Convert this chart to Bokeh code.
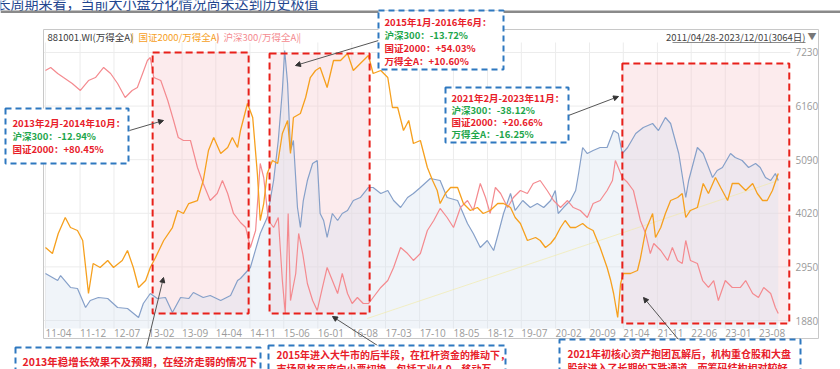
from datetime import datetime, timedelta
from bokeh.plotting import figure
from bokeh.models import (Range1d, FixedTicker, CustomJSTickFormatter, Label,
                          BoxAnnotation, Arrow, NormalHead)
from bokeh.embed import file_html
from bokeh.resources import INLINE

# ---------------- data (dates as decimal years) ----------------
# 881001.WI 万得全A (right axis)
WDQA_T = [2011.32, 2011.53, 2011.58, 2011.75, 2011.87, 2012.01, 2012.09, 2012.23, 2012.39, 2012.56,
          2012.73, 2012.92, 2013.00, 2013.12, 2013.24, 2013.38, 2013.50, 2013.64, 2013.78, 2013.86,
          2014.03, 2014.15, 2014.33, 2014.50, 2014.62, 2014.67, 2014.84, 2015.01, 2015.13, 2015.24,
          2015.32, 2015.39, 2015.43, 2015.48, 2015.53, 2015.58, 2015.65, 2015.70, 2015.75, 2015.82,
          2015.91, 2015.99, 2016.04, 2016.10, 2016.16, 2016.25, 2016.34, 2016.42, 2016.51, 2016.61,
          2016.73, 2016.87, 2016.95, 2017.08, 2017.20, 2017.30, 2017.42, 2017.54, 2017.64, 2017.76,
          2017.93, 2018.10, 2018.22, 2018.40, 2018.57, 2018.67, 2018.79, 2018.91, 2019.02, 2019.10,
          2019.19, 2019.31, 2019.39, 2019.52, 2019.65, 2019.77, 2019.88, 2020.00, 2020.08, 2020.13,
          2020.22, 2020.34, 2020.43, 2020.48, 2020.55, 2020.63, 2020.73, 2020.85, 2020.97, 2021.08,
          2021.16, 2021.23, 2021.32, 2021.46, 2021.59, 2021.75, 2021.85, 2021.97, 2022.06, 2022.20,
          2022.32, 2022.37, 2022.52, 2022.62, 2022.78, 2022.86, 2022.95, 2023.09, 2023.17, 2023.29,
          2023.40, 2023.52, 2023.60, 2023.69, 2023.78, 2023.86, 2023.91]
WDQA_V = [2818, 2678, 2778, 2539, 2519, 2139, 2279, 2339, 2319, 2139,
          2120, 1940, 2219, 2419, 2319, 2339, 2040, 2339, 2319, 2439,
          2339, 2379, 2279, 2379, 2678, 2718, 2938, 3617, 3936, 4674,
          5473, 6471, 7269, 6611, 5273, 5473, 4135, 3736, 4275, 4674,
          5014, 5074, 4016, 3876, 3537, 4016, 3876, 4016, 4076, 4275,
          4335, 4535, 4535, 4415, 4475, 4275, 4135, 4335, 4415, 4535,
          4714, 4674, 4335, 4275, 3816, 3617, 3337, 3477, 3277, 3617,
          4016, 4415, 4076, 4275, 4135, 4215, 4135, 4275, 4475, 4016,
          4135, 4275, 4475, 4814, 5333, 5213, 5273, 5333, 5333, 5672,
          5613, 5213, 5333, 5613, 5732, 5812, 5672, 5932, 5812, 5213,
          4335, 4674, 5333, 5213, 4734, 4874, 4934, 5213, 5133, 5074,
          4934, 5014, 4934, 4734, 4674, 4814, 4674]

# 国证2000/万得全A ratio (drawn on the right-axis equivalent scale)
GZ2000_T = [2011.32, 2011.44, 2011.54, 2011.66, 2011.75, 2011.87, 2011.96, 2012.06, 2012.14, 2012.26,
            2012.39, 2012.49, 2012.64, 2012.73, 2012.83, 2012.92, 2013.04, 2013.12, 2013.21, 2013.35,
            2013.50, 2013.59, 2013.69, 2013.78, 2013.93, 2014.03, 2014.12, 2014.21, 2014.33, 2014.45,
            2014.53, 2014.62, 2014.67, 2014.79, 2014.88, 2014.96, 2015.01, 2015.07, 2015.13, 2015.22,
            2015.31, 2015.39, 2015.48, 2015.53, 2015.58, 2015.70, 2015.79, 2015.87, 2015.96, 2016.04,
            2016.16, 2016.27, 2016.39, 2016.51, 2016.61, 2016.73, 2016.87, 2016.95, 2017.08, 2017.20,
            2017.28, 2017.37, 2017.47, 2017.56, 2017.64, 2017.76, 2017.88, 2017.97, 2018.05, 2018.10,
            2018.19, 2018.28, 2018.40, 2018.50, 2018.62, 2018.74, 2018.84, 2018.96, 2019.09, 2019.19,
            2019.31, 2019.39, 2019.48, 2019.60, 2019.74, 2019.82, 2019.91, 2020.00, 2020.08, 2020.17,
            2020.25, 2020.34, 2020.43, 2020.55, 2020.63, 2020.73, 2020.80, 2020.85, 2020.91, 2020.97,
            2021.03, 2021.08, 2021.15, 2021.20, 2021.25, 2021.37, 2021.49, 2021.54, 2021.63, 2021.75,
            2021.80, 2021.89, 2021.97, 2022.06, 2022.18, 2022.26, 2022.32, 2022.40, 2022.52, 2022.62,
            2022.71, 2022.83, 2022.92, 2023.04, 2023.12, 2023.23, 2023.35, 2023.47, 2023.55, 2023.64,
            2023.72, 2023.81, 2023.91]
GZ2000_V = [3337, 3217, 3617, 3936, 3736, 3676, 3477, 2419, 3018, 2938,
            3078, 2938, 3078, 3277, 2938, 2539, 2678, 2938, 3137, 3477,
            3736, 4076, 4016, 4215, 4275, 4674, 5273, 5533, 5213, 5333,
            5533, 5333, 5672, 6211, 5932, 4814, 3876, 4215, 4814, 5074,
            5014, 5613, 5872, 5213, 5932, 6012, 6331, 6730, 6870, 6930,
            6531, 7070, 7070, 7209, 6870, 7010, 7169, 6810, 6870, 6730,
            6131, 6131, 5672, 5872, 5413, 5473, 4934, 4674, 4475, 4215,
            4415, 4535, 4535, 4215, 4076, 4135, 4016, 4076, 4215, 4215,
            4135, 3936, 3816, 3477, 3537, 3477, 3337, 3417, 3537, 3736,
            3876, 3736, 3736, 3816, 3736, 3676, 3477, 3337, 3137, 2938,
            2678, 2419, 1940, 2619, 2818, 2818, 2878, 3118, 3676, 4016,
            3537, 3736, 4016, 4275, 4335, 4415, 3936, 4076, 4135, 4615,
            4415, 4734, 4535, 4275, 4615, 4615, 4475, 4615, 4415, 4275,
            4275, 4475, 4814]

# 沪深300/万得全A ratio (drawn on the right-axis equivalent scale)
HS300_T = [2011.32, 2011.41, 2011.53, 2011.63, 2011.78, 2011.92, 2012.06, 2012.18, 2012.32, 2012.44,
           2012.56, 2012.69, 2012.81, 2012.90, 2012.99, 2013.07, 2013.12, 2013.18, 2013.30, 2013.42,
           2013.52, 2013.60, 2013.69, 2013.81, 2013.93, 2014.03, 2014.15, 2014.27, 2014.36, 2014.45,
           2014.55, 2014.67, 2014.76, 2014.84, 2014.93, 2015.01, 2015.07, 2015.15, 2015.24, 2015.32,
           2015.39, 2015.44, 2015.49, 2015.53, 2015.62, 2015.67, 2015.74, 2015.82, 2015.91, 2015.99,
           2016.08, 2016.16, 2016.25, 2016.34, 2016.42, 2016.51, 2016.59, 2016.68, 2016.78, 2016.87,
           2016.95, 2017.08, 2017.20, 2017.30, 2017.42, 2017.54, 2017.64, 2017.76, 2017.88, 2017.99,
           2018.10, 2018.22, 2018.33, 2018.45, 2018.57, 2018.67, 2018.79, 2018.88, 2018.96, 2019.05,
           2019.14, 2019.26, 2019.36, 2019.48, 2019.60, 2019.70, 2019.82, 2019.94, 2020.05, 2020.17,
           2020.29, 2020.39, 2020.51, 2020.63, 2020.73, 2020.85, 2020.97, 2021.06, 2021.11, 2021.16,
           2021.23, 2021.32, 2021.42, 2021.54, 2021.63, 2021.71, 2021.77, 2021.89, 2022.01, 2022.09,
           2022.18, 2022.26, 2022.32, 2022.40, 2022.52, 2022.61, 2022.71, 2022.80, 2022.88, 2023.00,
           2023.12, 2023.26, 2023.35, 2023.47, 2023.57, 2023.66, 2023.78, 2023.86, 2023.91]
HS300_V = [6870, 6930, 6810, 6730, 6611, 6471, 6670, 6730, 6930, 6810,
           6611, 6331, 6471, 6531, 6810, 7070, 7129, 6730, 6670, 6271,
           5872, 5533, 5473, 5473, 4934, 4615, 4275, 4415, 4674, 4415,
           4016, 3836, 3736, 3337, 3676, 5014, 4734, 3876, 3736, 3936,
           2678, 2020, 4016, 2279, 2818, 3617, 3217, 2619, 2279, 2080,
           2539, 2938, 2678, 2419, 2818, 2419, 2219, 2339, 2219, 2219,
           2339, 2539, 2678, 2938, 3337, 3217, 3078, 3217, 3676, 3876,
           4116, 3936, 3736, 4135, 4275, 4076, 4615, 4335, 4016, 4535,
           4415, 4135, 4335, 4475, 4415, 4615, 4674, 4475, 4275, 4135,
           4275, 4135, 4076, 3936, 4215, 4275, 4475, 4674, 5074, 4934,
           4734, 4634, 4475, 3876, 3617, 3217, 3417, 3277, 3078, 3337,
           3078, 3018, 3477, 3078, 3018, 2678, 2539, 2678, 2279, 2678,
           2539, 2539, 2678, 2419, 2339, 2539, 2419, 2139, 2020]

# highlighted periods (red dashed boxes)
RECT_START = [2013.16, 2015.17, 2021.23]
RECT_END = [2014.81, 2016.89, 2024.10]
RECT_TOP = [7229, 7209, 7010]
RECT_BOTTOM = [2020, 2020, 1820]

# faint trend line
TREND_T = [2016.85, 2023.91]
TREND_V = [1920, 4674]

Y_TICKS = [1880, 2950, 4020, 5090, 6160, 7230]
X_TICK_LABELS = ["11-04", "11-12", "12-07", "13-02", "13-09", "14-04", "14-11", "15-06",
                 "16-01", "16-08", "17-03", "17-10", "18-05", "18-12", "19-07", "20-02",
                 "20-09", "21-04", "21-11", "22-06", "23-01", "23-08"]

# whole-canvas ranges and the chart panel extent inside them
X_START, X_END = 2010.547, 2024.980
Y_START, Y_END = 902.0, 8267.2
PANEL_T0, PANEL_T1 = 2011.286, 2024.12
PANEL_V0, PANEL_V1 = 1720, 7429
AXIS_V = 1725            # x-axis baseline
LABEL_SHIFT_DAYS = 82    # tick labels start at the month line (Wind style)


def to_dt(t):
    y = int(t)
    return datetime(y, 1, 1) + timedelta(days=(t - y) * 365.25)


def ms(d):
    return (d - datetime(1970, 1, 1)).total_seconds() * 1000.0


data_start = to_dt(WDQA_T[0])
tick_dates = []
for lab in X_TICK_LABELS:
    yy, mm = lab.split("-")
    d = datetime(2000 + int(yy), int(mm), 1)
    tick_dates.append(max(d, data_start))

FONT = "Noto Sans CJK SC"
RED = "#e8202a"
GREEN = "#1ea64b"
BLUE_BOX = "#2e78c0"

p = figure(width=840, height=369, x_axis_type="datetime", y_axis_location="right",
           x_range=Range1d(to_dt(X_START), to_dt(X_END)),
           y_range=Range1d(Y_START, Y_END),
           output_backend="svg", toolbar_location=None,
           min_border=0, min_border_left=0, min_border_right=0, min_border_top=0, min_border_bottom=0,
           outline_line_color=None, background_fill_color="white", border_fill_color="white")
p.grid.visible = False

# page-pixel helper ranges for the annotation boxes
p.extra_x_ranges = {"px": Range1d(0, 840)}
p.extra_y_ranges = {"px": Range1d(369, 0)}

# axes (placed inside the canvas, at the panel edges)
p.xaxis.ticker = FixedTicker(ticks=[ms(d + timedelta(days=LABEL_SHIFT_DAYS)) for d in tick_dates])
p.xaxis.formatter = CustomJSTickFormatter(args=dict(labels=X_TICK_LABELS), code="return labels[index];")
p.xaxis.fixed_location = AXIS_V
p.yaxis.ticker = FixedTicker(ticks=Y_TICKS)
p.yaxis.fixed_location = ms(to_dt(PANEL_T1))
for ax in (p.xaxis[0], p.yaxis[0]):
    ax.axis_line_color = None
    ax.major_tick_line_color = None
    ax.minor_tick_line_color = None
    ax.major_tick_out = 0
    ax.major_tick_in = 0
    ax.major_label_text_color = "#9a9a9a"
    ax.major_label_text_font = "Open Sans"
    ax.major_label_text_font_size = "10px"
p.xaxis.major_label_standoff = 1
p.yaxis.major_label_standoff = 5

# grid lines inside the panel
p.segment(x0=tick_dates, y0=[PANEL_V0] * len(tick_dates), x1=tick_dates, y1=[PANEL_V1] * len(tick_dates),
          line_color="#ececec", line_width=1)
p.segment(x0=[to_dt(PANEL_T0)] * len(Y_TICKS), y0=Y_TICKS, x1=[to_dt(PANEL_T1)] * len(Y_TICKS), y1=Y_TICKS,
          line_color="#ececec", line_width=1)

# highlighted period fills
rx0 = [to_dt(t) for t in RECT_START]
rx1 = [to_dt(t) for t in RECT_END]
p.quad(left=rx0, right=rx1, top=RECT_TOP, bottom=RECT_BOTTOM,
       fill_color="#f7c6ca", fill_alpha=0.35, line_color=None)

# area under 万得全A
wx = [to_dt(t) for t in WDQA_T]
p.varea(x=wx, y1=[PANEL_V0] * len(wx), y2=WDQA_V, fill_color="#d8e1ef", fill_alpha=0.38)

p.line([to_dt(t) for t in TREND_T], TREND_V, line_color="#f2e9a0", line_width=1, line_alpha=0.6)

p.line(wx, WDQA_V, line_color="#86a0c9", line_width=1.2)
p.line([to_dt(t) for t in HS300_T], HS300_V, line_color="#f48a8f", line_width=1.2)
p.line([to_dt(t) for t in GZ2000_T], GZ2000_V, line_color="#f6a01e", line_width=1.3)

p.quad(left=rx0, right=rx1, top=RECT_TOP, bottom=RECT_BOTTOM,
       fill_color=None, line_color="#e8201a", line_width=2, line_dash="7 4")


def box(l, r, t, b, **kw):
    args = dict(left=l, right=r, top=t, bottom=b, x_range_name="px", y_range_name="px",
                level="overlay", line_alpha=1.0)
    args.update(kw)
    p.add_layout(BoxAnnotation(**args))


def label(x, y, text, color, size="9.5px", bold=True, font=FONT, align="left"):
    p.add_layout(Label(x=x, y=y, text=text, text_color=color, text_font_size=size,
                       text_font_style="bold" if bold else "normal", text_font=font,
                       text_baseline="middle", text_align=align,
                       x_range_name="px", y_range_name="px", level="overlay"))


def arrow(x0, y0, x1, y1):
    p.add_layout(Arrow(x_start=x0, y_start=y0, x_end=x1, y_end=y1,
                       end=NormalHead(size=5, fill_color="#333333", line_color="#333333"),
                       line_color="#555555", line_width=1,
                       x_range_name="px", y_range_name="px", level="overlay"))


# page title line (cut at the top edge, as in the source) and separator
label(-4, 2, "长周期来看，当前大小盘分化情况尚未达到历史极值", "#23468f", size="14px", bold=False)
box(0, 840, 10, 12.5, fill_color="#8a8a8a", fill_alpha=1, line_color=None)
box(43, 818, 29, 338, fill_color=None, fill_alpha=0, line_color="#c8c8c8", line_width=1)

# header
label(47, 36, "881001.WI(万得全A)", "#3a3a3a", size="9.5px", bold=False)
label(131, 36, "|", "#f6a01e", size="9.5px", bold=False)
label(138, 36, "国证2000/万得全A)", "#f6a01e", size="9.5px", bold=False)
label(216, 36, "|", "#f48a8f", size="9.5px", bold=False)
label(223, 36, "沪深300/万得全A)", "#f48a8f", size="9.5px", bold=False)
label(298, 36, "|", "#f48a8f", size="9.5px", bold=False)
label(805, 36, "2011/04/28-2023/12/01(3064日)", "#444444", size="9.5px", bold=False, align="right")
box(672, 805, 41.5, 42.3, fill_color="#666666", fill_alpha=1, line_color=None)
label(807, 36, "▼", "#777777", size="9px", bold=False)

# connectors
arrow(129, 130, 163, 120)
arrow(378, 40, 295, 65)
arrow(568, 115, 618, 96)
arrow(146, 347, 163, 277)
arrow(377, 345, 332, 316)
arrow(678, 339, 643, 297)

# dashed info boxes
dash = dict(fill_color="white", fill_alpha=1, line_color=BLUE_BOX, line_width=2, line_dash="6 4")
box(5, 128, 108, 163, **dash)
box(378, 503, 10, 69, **dash)
box(445, 568, 87, 142, **dash)
box(15, 260, 347, 390, **dash)
box(268, 505, 345, 390, **dash)
box(559, 800, 339, 390, **dash)

label(12, 122, "2013年2月-2014年10月：", RED)
label(12, 135, "沪深300：-12.94%", GREEN)
label(12, 148, "国证2000：+80.45%", RED)

label(384, 21, "2015年1月-2016年6月：", RED)
label(384, 34, "沪深300：-13.72%", GREEN)
label(384, 47, "国证2000：+54.03%", RED)
label(384, 60, "万得全A：+10.60%", RED)

label(451, 97, "2021年2月-2023年11月：", RED)
label(451, 109, "沪深300：-38.12%", GREEN)
label(451, 121, "国证2000：+20.66%", RED)
label(451, 133, "万得全A：-16.25%", GREEN)

label(22, 361, "2013年稳增长效果不及预期，在经济走弱的情况下", RED, size="10.5px")
label(276, 354, "2015年进入大牛市的后半段，在杠杆资金的推动下，", RED, size="10px")
label(276, 368, "市场风格再度向小票切换，包括工业4.0、移动互", RED, size="10px")
label(567, 353, "2021年初核心资产抱团瓦解后，机构重仓股和大盘", RED, size="10px")
label(567, 367, "股就进入了长期的下跌通道，而筹码结构相对较好", RED, size="10px")

open("out.html", "w").write(file_html(p, INLINE))
